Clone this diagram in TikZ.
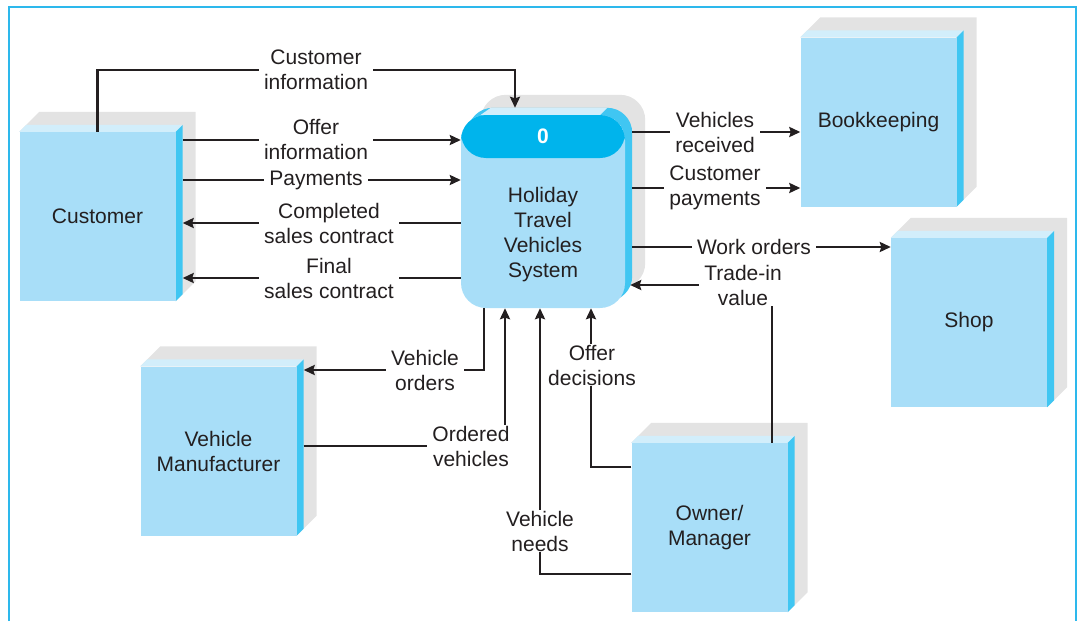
\documentclass[tikz,border=0pt]{standalone}
\usepackage{fontspec}
\setmainfont{Liberation Sans}
\usetikzlibrary{arrows.meta,positioning,calc}
\definecolor{inkgrey}{HTML}{231F20}
\definecolor{facecyan}{HTML}{A8DEF8}
\definecolor{toplight}{HTML}{D2EEFB}
\definecolor{sidecyan}{HTML}{40C6F2}
\definecolor{headcyan}{HTML}{00B4EC}
\definecolor{framecyan}{HTML}{2DB8EC}
\definecolor{shadegrey}{HTML}{E3E3E3}
\pgfdeclarelayer{shade}
\pgfdeclarelayer{flows}
\pgfsetlayers{shade,flows,main}

\begin{document}
\begin{tikzpicture}[
    x=1pt, y=-1pt,
    font=\fontsize{21}{25}\selectfont, text=inkgrey,
    entity/.style={rectangle, fill=facecyan, minimum width=156pt, minimum height=169pt, inner sep=0pt, align=center},
    process/.style={rectangle, rounded corners=25pt, fill=facecyan, minimum width=164pt, minimum height=193pt, inner sep=0pt,
      path picture={\fill[headcyan] (path picture bounding box.north west) rectangle ([yshift=-43pt]path picture bounding box.north east);}},
    lbl/.style={fill=white, align=center, inner xsep=5pt, inner ysep=1pt},
    flow/.style={-{Stealth[length=11pt, width=10pt, inset=1.5pt]}, line width=2.5pt, draw=inkgrey}
  ]
    \useasboundingbox (0,0) rectangle (1081,621);
    \draw[line width=2pt, framecyan] (9,621) -- (9,7) -- (1076,7) -- (1076,621);

    % external entities
    \node[entity] (cust) at (97.5,216.5) {Customer};
    \node[entity] (book) at (878.5,122) {Bookkeeping};
    \node[entity] (shop) at (969,322.5) {Shop};
    \node[entity] (manu) at (218.5,451) {Vehicle\\Manufacturer};
    \node[entity] (owner) at (709.5,527.5) {Owner/\\Manager};

    % the system
    \node[process] (proc) at (543,211.5) {};
    \node[font=\fontsize{21}{25}\selectfont\bfseries, text=white] (pid) at ([yshift=-21.5pt]proc.north) {0};
    \node[align=center] (pname) at ([yshift=-23pt]proc.center) {Holiday\\Travel\\Vehicles\\System};

    % flow labels
    \node[lbl] (lCustInfo) at (316,70) {Customer\\information};
    \node[lbl] (lOffer) at (316,140) {Offer\\information};
    \node[lbl] (lPay) at (316,180) {Payments};
    \node[lbl] (lDone) at (329,223) {Completed\\sales contract};
    \node[lbl] (lFinal) at (329,278) {Final\\sales contract};
    \node[lbl] (lVehRec) at (715,132) {Vehicles\\received};
    \node[lbl] (lCustPay) at (715,188) {Customer\\payments};
    \node[lbl] (lWork) at (754,247) {Work orders};
    \node[lbl] (lTrade) at (743,285) {Trade-in\\value};
    \node[lbl] (lVehOrd) at (425,370) {Vehicle\\orders};
    \node[lbl] (lOrdered) at (471,446) {Ordered\\vehicles};
    \node[lbl] (lNeeds) at (540,531) {Vehicle\\needs};
    \node[lbl] (lOfferDec) at (592,365) {Offer\\decisions};

    \begin{pgfonlayer}{flows}
      \draw[flow] (cust.north) |- (lCustInfo) -| ([xshift=-28pt,yshift=7pt]proc.north);
      \draw[flow] ([xshift=7pt]cust.east |- lOffer) -- (proc.west |- lOffer);
      \draw[flow] ([xshift=7pt]cust.east |- lPay) -- (proc.west |- lPay);
      \draw[flow] (proc.west |- lDone) -- ([xshift=7pt]cust.east |- lDone);
      \draw[flow] (proc.west |- lFinal) -- ([xshift=7pt]cust.east |- lFinal);
      \draw[flow] ([xshift=7pt]proc.east |- lVehRec) -- (book.west |- lVehRec);
      \draw[flow] ([xshift=7pt]proc.east |- lCustPay) -- (book.west |- lCustPay);
      \draw[flow] ([xshift=7pt]proc.east |- lWork) -- (shop.west |- lWork);
      \draw[flow] ([xshift=62.5pt]owner.north) |- ([xshift=5pt]proc.east |- lTrade);
      \draw[flow] ([xshift=-59pt]proc.south) |- ([xshift=7pt]manu.east |- lVehOrd);
      \draw[flow] ([xshift=7pt]manu.east |- lOrdered) -| ([xshift=-38pt]proc.south);
      \draw[flow] ([yshift=-46.5pt]owner.west) -| ([xshift=-3pt]proc.south);
      \draw[flow] ([yshift=60.5pt]owner.west) -| ([xshift=48pt]proc.south);
    \end{pgfonlayer}

    % 3D sides and shadows
    \begin{pgfonlayer}{shade}
      \foreach \e in {cust,book,shop,manu,owner}{
        \fill[shadegrey] (\e.north west) -- ++(20pt,20pt) -- ([shift={(20pt,20pt)}]\e.north east)
          -- ([shift={(20pt,20pt)}]\e.south east) -- (\e.south east) -- (\e.north east) -- cycle;
        \fill[toplight] (\e.north west) -- ++(7pt,7pt) -- ([shift={(7pt,7pt)}]\e.north east) -- (\e.north east) -- cycle;
        \fill[sidecyan] (\e.north east) -- ++(7pt,7pt) -- ([shift={(7pt,7pt)}]\e.south east) -- (\e.south east) -- cycle;
      }
      \fill[shadegrey, rounded corners=25pt] ([shift={(20pt,20pt)}]proc.south west) rectangle ([shift={(20pt,20pt)}]proc.north east);
      \fill[sidecyan, rounded corners=25pt] ([shift={(7pt,7pt)}]proc.south west) rectangle ([shift={(7pt,7pt)}]proc.north east);
      \fill[toplight] ([xshift=20pt]proc.north west) -- ([xshift=30pt,yshift=7pt]proc.north west)
        -- ([xshift=-18pt,yshift=7pt]proc.north east) -- ([xshift=-25pt]proc.north east) -- cycle;
    \end{pgfonlayer}
  \end{tikzpicture}
\end{document}
